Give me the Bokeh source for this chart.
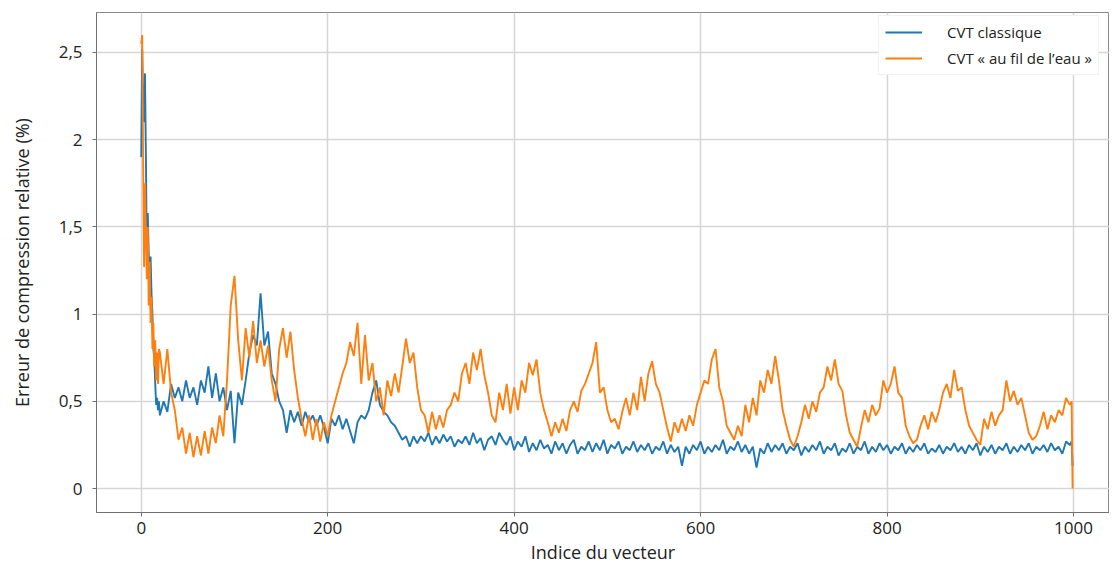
from bokeh.plotting import figure
from bokeh.models import Range1d, Legend, LegendItem, FixedTicker, ColumnDataSource
from bokeh.embed import file_html
from bokeh.resources import INLINE

# Index positions of the samples (vector index)
idx_early = list(range(0, 20))
idx_main = list(range(20, 1000, 4))
idx_tail = [998, 999]

# CVT classique (blue)
classic_early = [1.9, 2.52, 2.2, 2.1, 2.38, 1.9, 1.33, 1.58, 1.35, 1.16,
                 1.33, 1.12, 1.0, 0.8, 0.75, 0.6, 0.48, 0.52, 0.45, 0.5]
classic_main = [
    0.42, 0.5, 0.44, 0.6, 0.52, 0.58, 0.5, 0.62, 0.52, 0.58,      # 20-56
    0.48, 0.62, 0.55, 0.7, 0.52, 0.66, 0.5, 0.58, 0.45, 0.56,     # 60-96
    0.26, 0.55, 0.48, 0.62, 0.78, 0.88, 0.82, 1.12, 0.82, 0.9,    # 100-136
    0.66, 0.6, 0.5, 0.45, 0.32, 0.45, 0.38, 0.44, 0.36, 0.44,     # 140-176
    0.38, 0.42, 0.36, 0.42, 0.35, 0.26, 0.4, 0.36, 0.42, 0.34,    # 180-216
    0.4, 0.33, 0.26, 0.38, 0.42, 0.4, 0.45, 0.55, 0.62, 0.48,     # 220-256
    0.44, 0.42, 0.38, 0.36, 0.32, 0.28, 0.3, 0.24, 0.3, 0.26,     # 260-296
    0.3, 0.27, 0.32, 0.25, 0.3, 0.26, 0.31, 0.27, 0.3, 0.24,      # 300-336
    0.28, 0.26, 0.3, 0.25, 0.32, 0.26, 0.29, 0.22, 0.28, 0.3,     # 340-376
    0.25, 0.32, 0.28, 0.25, 0.3, 0.22, 0.27, 0.24, 0.3, 0.21,     # 380-416
    0.26, 0.22, 0.28, 0.23, 0.25, 0.2, 0.27, 0.22, 0.26, 0.2,     # 420-456
    0.25, 0.28, 0.2, 0.24, 0.22, 0.27, 0.21, 0.26, 0.22, 0.28,    # 460-496
    0.2, 0.25, 0.23, 0.27, 0.2, 0.24, 0.22, 0.27, 0.21, 0.25,     # 500-536
    0.22, 0.26, 0.2, 0.24, 0.22, 0.27, 0.2, 0.25, 0.21, 0.24,     # 540-576
    0.13, 0.24, 0.2, 0.25, 0.22, 0.27, 0.2, 0.24, 0.21, 0.25,     # 580-616
    0.22, 0.28, 0.2, 0.24, 0.22, 0.27, 0.21, 0.25, 0.2, 0.24,     # 620-656
    0.12, 0.23, 0.2, 0.26, 0.21, 0.25, 0.22, 0.26, 0.2, 0.24,     # 660-696
    0.22, 0.26, 0.19, 0.24, 0.21, 0.25, 0.22, 0.27, 0.2, 0.24,    # 700-736
    0.22, 0.26, 0.19, 0.23, 0.21, 0.26, 0.2, 0.24, 0.22, 0.27,    # 740-776
    0.2, 0.24, 0.21, 0.26, 0.22, 0.25, 0.2, 0.24, 0.22, 0.26,     # 780-816
    0.2, 0.24, 0.21, 0.25, 0.22, 0.26, 0.2, 0.23, 0.21, 0.25,     # 820-856
    0.2, 0.24, 0.22, 0.26, 0.21, 0.24, 0.2, 0.25, 0.22, 0.26,     # 860-896
    0.19, 0.24, 0.21, 0.25, 0.2, 0.24, 0.22, 0.26, 0.2, 0.24,     # 900-936
    0.21, 0.25, 0.22, 0.26, 0.2, 0.24, 0.22, 0.25, 0.21, 0.26,    # 940-976
    0.22, 0.24, 0.2, 0.27, 0.25,                                  # 980-996
]
classic_tail = [0.27, 0.13]

# CVT « au fil de l'eau » (orange)
stream_early = [2.55, 2.6, 1.9, 1.27, 1.75, 1.45, 1.2, 1.5, 1.05, 1.3,
                0.95, 1.1, 0.8, 0.95, 0.7, 0.85, 0.62, 0.78, 0.6, 0.8]
stream_main = [
    0.78, 0.6, 0.8, 0.55, 0.45, 0.28, 0.35, 0.2, 0.32, 0.18,      # 20-56
    0.3, 0.19, 0.33, 0.2, 0.35, 0.26, 0.42, 0.3, 0.62, 1.05,      # 60-96
    1.22, 0.85, 0.62, 0.92, 0.75, 0.96, 0.72, 0.85, 0.7, 0.82,    # 100-136
    0.62, 0.5, 0.8, 0.92, 0.75, 0.9, 0.68, 0.52, 0.4, 0.3,        # 140-176
    0.42, 0.28, 0.4, 0.27, 0.38, 0.3, 0.42, 0.5, 0.58, 0.66,      # 180-216
    0.72, 0.84, 0.76, 0.95, 0.6, 0.88, 0.62, 0.72, 0.5, 0.58,     # 220-256
    0.42, 0.62, 0.53, 0.66, 0.55, 0.7, 0.86, 0.72, 0.78, 0.58,    # 260-296
    0.45, 0.42, 0.32, 0.44, 0.34, 0.42, 0.35, 0.45, 0.48, 0.55,   # 300-336
    0.5, 0.66, 0.72, 0.6, 0.78, 0.68, 0.8, 0.65, 0.55, 0.42,      # 340-376
    0.38, 0.55, 0.45, 0.6, 0.43, 0.58, 0.45, 0.62, 0.55, 0.72,    # 380-416
    0.65, 0.74, 0.55, 0.45, 0.38, 0.3, 0.38, 0.32, 0.4, 0.33,     # 420-456
    0.45, 0.5, 0.44, 0.56, 0.6, 0.66, 0.72, 0.84, 0.55, 0.58,     # 460-496
    0.45, 0.38, 0.4, 0.34, 0.44, 0.52, 0.42, 0.55, 0.45, 0.64,    # 500-536
    0.5, 0.66, 0.73, 0.6, 0.55, 0.45, 0.35, 0.27, 0.38, 0.32,     # 540-576
    0.4, 0.33, 0.42, 0.36, 0.48, 0.55, 0.62, 0.6, 0.74, 0.8,      # 580-616
    0.58, 0.5, 0.36, 0.32, 0.28, 0.36, 0.3, 0.48, 0.38, 0.52,     # 620-656
    0.42, 0.62, 0.55, 0.68, 0.6, 0.76, 0.62, 0.45, 0.36, 0.28,    # 660-696
    0.24, 0.3, 0.38, 0.48, 0.4, 0.5, 0.44, 0.55, 0.58, 0.7,       # 700-736
    0.62, 0.74, 0.6, 0.56, 0.42, 0.32, 0.28, 0.24, 0.35, 0.45,    # 740-776
    0.38, 0.48, 0.42, 0.46, 0.62, 0.55, 0.6, 0.7, 0.55, 0.52,     # 780-816
    0.36, 0.3, 0.26, 0.28, 0.36, 0.42, 0.34, 0.44, 0.38, 0.45,    # 820-856
    0.55, 0.6, 0.52, 0.68, 0.56, 0.58, 0.45, 0.36, 0.32, 0.28,    # 860-896
    0.25, 0.4, 0.34, 0.44, 0.36, 0.42, 0.45, 0.62, 0.5, 0.56,     # 900-936
    0.48, 0.52, 0.42, 0.32, 0.28, 0.3, 0.36, 0.44, 0.34, 0.42,    # 940-976
    0.38, 0.45, 0.42, 0.52, 0.48,                                 # 980-996
]
stream_tail = [0.5, 0.0]

x_ticks = [0, 200, 400, 600, 800, 1000]
y_ticks = [0, 0.5, 1, 1.5, 2, 2.5]
y_tick_labels = ["0", "0,5", "1", "1,5", "2", "2,5"]
series_names = ["CVT classique", "CVT « au fil de l’eau »"]

idx = idx_early + idx_main + idx_tail
classic = classic_early + classic_main + classic_tail
stream = stream_early + stream_main + stream_tail
n1 = min(len(idx), len(classic))
n2 = min(len(idx), len(stream))

FONT = "Open Sans"
BLUE = "#1f77b4"
ORANGE = "#ff7f0e"

p = figure(width=1109, height=566, output_backend="svg", toolbar_location=None,
           x_range=Range1d(-48, 1038.6), y_range=Range1d(-0.137, 2.729),
           min_border_left=96, min_border_right=0, min_border_top=12, min_border_bottom=53)

src1 = ColumnDataSource(dict(x=idx[:n1], y=classic[:n1]))
src2 = ColumnDataSource(dict(x=idx[:n2], y=stream[:n2]))
r1 = p.line("x", "y", source=src1, line_color=BLUE, line_width=1.9)
r2 = p.line("x", "y", source=src2, line_color=ORANGE, line_width=1.9)

p.xaxis.ticker = FixedTicker(ticks=x_ticks)
p.yaxis.ticker = FixedTicker(ticks=y_ticks)
p.yaxis.major_label_overrides = {t: l for t, l in zip(y_ticks, y_tick_labels)}
p.xaxis.axis_label = "Indice du vecteur"
p.yaxis.axis_label = "Erreur de compression relative (%)"

for ax in (p.xaxis, p.yaxis):
    ax.axis_label_text_font = FONT
    ax.axis_label_text_font_size = "18px"
    ax.axis_label_text_font_style = "normal"
    ax.axis_label_text_color = "#222222"
    ax.major_label_text_font = FONT
    ax.major_label_text_font_size = "17px"
    ax.major_label_text_color = "#222222"
    ax.axis_line_color = "#707070"
    ax.major_tick_line_color = "#707070"
    ax.major_tick_out = 4
    ax.major_tick_in = 0
    ax.minor_tick_line_color = None

p.yaxis.major_label_standoff = 10
p.yaxis.axis_label_standoff = 22
p.xaxis.major_label_standoff = 5
p.xaxis.axis_label_standoff = 3

p.grid.grid_line_color = "#d6d6d6"
p.grid.grid_line_width = 1.5
p.outline_line_color = "#8a8a8a"
p.background_fill_color = "white"
p.border_fill_color = "white"

legend = Legend(items=[LegendItem(label=series_names[0], renderers=[r1]),
                       LegendItem(label=series_names[1], renderers=[r2])],
                location=(782, 437))
legend.label_text_font = FONT
legend.label_text_font_size = "15px"
legend.label_text_color = "#222222"
legend.glyph_width = 37
legend.glyph_height = 20
legend.label_standoff = 25
legend.label_height = 20
legend.spacing = 6
legend.padding = 6
legend.margin = 0
legend.border_line_color = "#e6e6e6"
legend.background_fill_alpha = 1
p.add_layout(legend)

open("out.html", "w").write(file_html(p, INLINE))
